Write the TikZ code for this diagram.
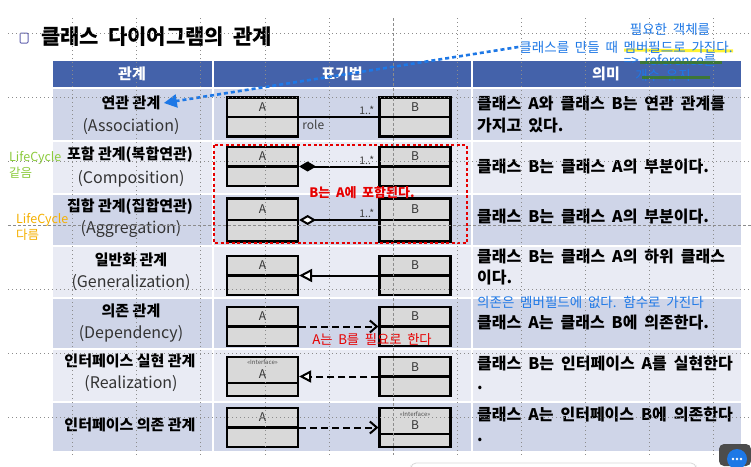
\documentclass[tikz,border=0pt]{standalone}
\usepackage{fontspec}
\setmainfont{Noto Sans CJK KR}
\newfontfamily\krwide{Noto Sans CJK KR}[WordSpace=2.2]
\newfontfamily\krmid{Noto Sans CJK KR}[WordSpace=1.9]
\usetikzlibrary{arrows.meta}
\definecolor{hdblue}{HTML}{4462AA}
\definecolor{rowdark}{HTML}{CFD5E8}
\definecolor{rowlight}{HTML}{E9EBF4}
\definecolor{boxgray}{HTML}{D9D9D9}
\definecolor{noteblue}{HTML}{1E78E6}
\definecolor{notered}{HTML}{E60000}
\definecolor{lcgreen}{HTML}{8CCB3C}
\definecolor{lcorange}{HTML}{F5B000}
\definecolor{strikegreen}{HTML}{3C7A22}
\definecolor{guide}{HTML}{8C8C8C}

\tikzset{
  cell/.style={draw=white, line width=1.5pt},
  classbox/.style={draw=black, line width=2.2pt, fill=boxgray, minimum width=71pt, minimum height=39pt, inner sep=0pt},
  divider/.style={line width=2.2pt},
  cname/.style={font=\fontsize{12}{12}\selectfont, text=black!80, inner sep=0pt},
  stereo/.style={font=\fontsize{6}{6}\selectfont, text=black!70, inner sep=0pt},
  mult/.style={font=\fontsize{10.5}{11}\selectfont, text=black!75, inner sep=1pt},
  relko/.style={font=\bfseries\fontsize{15}{15}\selectfont},
  relen/.style={font=\fontsize{16}{16}\selectfont, text=black!80},
  meaning/.style={font=\krmid\bfseries\fontsize{16}{17}\selectfont, anchor=west, inner sep=0pt},
  headtext/.style={font=\bfseries\fontsize{15}{15}\selectfont, text=white},
  note/.style={font=\krwide\fontsize{13.5}{14}\selectfont, text=noteblue, inner sep=1pt},
  guideline/.style={guide, line width=0.7pt, dash pattern=on 1pt off 3pt},
  rel/.style={line width=2pt},
  depline/.style={line width=2pt, dash pattern=on 7pt off 4pt},
}

\begin{document}
\begin{tikzpicture}[x=1pt,y=-1pt]
\useasboundingbox (0,0) rectangle (751,466);
\fill[white] (0,0) rectangle (751,466);

\node[draw=guide!70!blue, line width=1pt, rounded corners=1pt, minimum width=8pt, minimum height=10pt, inner sep=0pt] (bullet) at (24,38) {};
\node[font=\krwide\bfseries\fontsize{21}{21}\selectfont, anchor=west, inner sep=0pt] (title) at (41,37) {클래스 다이어그램의 관계};

\draw[cell, fill=hdblue] (52,60) rectangle (213,88);
\draw[cell, fill=hdblue] (213,60) rectangle (472,88);
\draw[cell, fill=hdblue] (472,60) rectangle (742,88);
\foreach \top/\bot/\col in {88/141/rowdark,141/194/rowlight,194/246/rowdark,246/298/rowlight,298/349/rowdark,349/402/rowlight,402/452/rowdark}{
  \draw[cell, fill=\col] (52,\top) rectangle (213,\bot);
  \draw[cell, fill=\col] (213,\top) rectangle (472,\bot);
  \draw[cell, fill=\col] (472,\top) rectangle (742,\bot);
}
\node[headtext] (h1) at (132,74) {관계};
\node[headtext] (h2) at (342,74) {표기법};
\node[headtext] (h3) at (606,74) {의미};

\node[relko] (r1a) at (131,103) {연관 관계};
\node[relen] (r1b) at (131,127) {(Association)};
\node[relko] (r2a) at (130,155) {포함 관계(복합연관)};
\node[relen] (r2b) at (131,179) {(Composition)};
\node[relko] (r3a) at (130,207) {집합 관계(집합연관)};
\node[relen] (r3b) at (131,229) {(Aggregation)};
\node[relko] (r4a) at (131,260) {일반화 관계};
\node[relen] (r4b) at (131,283) {(Generalization)};
\node[relko] (r5a) at (131,311) {의존 관계};
\node[relen] (r5b) at (131,334) {(Dependency)};
\node[relko] (r6a) at (130,361) {인터페이스 실현 관계};
\node[relen] (r6b) at (131,384) {(Realization)};
\node[relko] (r7a) at (130,425) {인터페이스 의존 관계};

\foreach \n/\y in {1/117,2/166.5,4/275.5,5/326.5}{
  \node[classbox] (a\n) at (262.5,\y) {};
  \node[classbox] (b\n) at (415,\y) {};
  \draw[divider] (a\n.west) -- (a\n.east);
  \draw[divider] (b\n.west) -- (b\n.east);
  \node[cname] at ([yshift=10pt]a\n.center) {A};
  \node[cname] at ([yshift=10pt]b\n.center) {B};
}
\node[classbox, minimum height=43pt] (a3) at (262.5,220) {};
\node[classbox, minimum height=43pt] (b3) at (415,220) {};
\draw[divider] (a3.west) -- (a3.east);
\draw[divider] (b3.west) -- (b3.east);
\node[cname] at ([yshift=11pt]a3.center) {A};
\node[cname] at ([yshift=11pt]b3.center) {B};

\node[classbox] (a6) at (262.5,376.5) {};
\node[classbox] (b6) at (415,376.5) {};
\draw[divider] ([yshift=-6.5pt]a6.west) -- ([yshift=-6.5pt]a6.east);
\draw[divider] (b6.west) -- (b6.east);
\node[stereo] at ([yshift=14.5pt]a6.center) {\textless\textless Interface\textgreater\textgreater};
\node[cname] at ([yshift=2.5pt]a6.center) {A};
\node[cname] at ([yshift=9pt]b6.center) {B};

\node[classbox] (a7) at (262.5,427.5) {};
\node[classbox] (b7) at (415,427.5) {};
\draw[divider] (a7.west) -- (a7.east);
\draw[divider] ([yshift=-6.5pt]b7.west) -- ([yshift=-6.5pt]b7.east);
\node[cname] at ([yshift=10pt]a7.center) {A};
\node[stereo] at ([yshift=13.5pt]b7.center) {\textless\textless Interface\textgreater\textgreater};
\node[cname] at ([yshift=2.5pt]b7.center) {B};

\draw[rel] (a1.east) -- (b1.west);
\node[mult, anchor=south east] (m1) at ([xshift=-3pt,yshift=1pt]b1.west) {1..*};
\node[mult, font=\fontsize{12}{12}\selectfont, anchor=north west] (role) at ([xshift=2pt,yshift=-2pt]a1.east) {role};
\draw[rel, -{Diamond[length=17pt,width=10pt]}] (b2.west) -- (a2.east);
\node[mult, anchor=south east] (m2) at ([xshift=-3pt,yshift=1pt]b2.west) {1..*};
\draw[rel, -{Diamond[length=17pt,width=10pt,fill=white]}] (b3.west) -- (a3.east);
\node[mult, anchor=south east] (m3) at ([xshift=-3pt,yshift=1pt]b3.west) {1..*};
\draw[rel, -{Triangle[length=13pt,width=13pt,fill=white]}] (b4.west) -- (a4.east);
\draw[depline, -{Straight Barb[length=7pt,width=12pt]}] (a5.east) -- (b5.west);
\draw[depline, -{Triangle[length=12pt,width=12pt,fill=white]}] (b6.west) -- (a6.east);
\draw[depline, -{Straight Barb[length=7pt,width=12pt]}] (a7.east) -- (b7.west);

\draw[notered, line width=2.2pt, dash pattern=on 3pt off 2.5pt] (214,145) rectangle (467,243);
\node[font=\krwide\bfseries\fontsize{13}{13}\selectfont, text=notered] (incl) at (362,193) {B는 A에 포함된다.};
\node[font=\krwide\fontsize{13.3}{13}\selectfont, text=notered] (need) at (372,340) {A는 B를 필요로 한다};

\node[meaning] (s1a) at (477,103) {클래스 A와 클래스 B는 연관 관계를};
\node[meaning] (s1b) at (477,126) {가지고 있다.};
\node[meaning] (s2) at (477,167) {클래스 B는 클래스 A의 부분이다.};
\node[meaning] (s3) at (477,217) {클래스 B는 클래스 A의 부분이다.};
\node[meaning] (s4a) at (477,257) {클래스 B는 클래스 A의 하위 클래스};
\node[meaning] (s4b) at (477,278) {이다.};
\node[note, anchor=west, inner sep=0pt] (depnote) at (477,302) {의존은 멤버필드에 없다. 함수로 가진다};
\node[meaning] (s5) at (477,323) {클래스 A는 클래스 B에 의존한다.};
\node[meaning] (s6a) at (477,363) {클래스 B는 인터페이스 A를 실현한다};
\node[meaning] (s6b) at (477,388) {.};
\node[meaning] (s7a) at (477,415) {클래스 A는 인터페이스 B에 의존한다};
\node[meaning] (s7b) at (477,440) {.};

\draw[yellow, line width=3pt, opacity=0.8] (624,50) -- (733,51);
\node[note] (n1) at (670,29) {필요한 객체를};
\node[note] (n2) at (626,47) {클래스를 만들 때 멤버필드로 가진다.};
\node[note] (n3) at (670,60) {=> reference를};
\node[note] (n4) at (663,75) {개수 유지};
\draw[strikegreen, line width=3pt, opacity=0.85] (640,62) -- (722,62);
\draw[strikegreen, line width=3pt, opacity=0.85] (642,77) -- (710,77);
\draw[noteblue, line width=2.6pt, dash pattern=on 4pt off 3pt, -{Triangle[length=13pt,width=13pt]}] (n2.west) -- (r1a.east);

\node[font=\fontsize{12.5}{16}\selectfont, text=lcgreen, anchor=west, inner sep=0pt, align=left] (lc1) at (9,165) {LifeCycle\\같음};
\node[font=\fontsize{12.5}{16}\selectfont, text=lcorange, anchor=west, inner sep=0pt, align=left] (lc2) at (16,227) {LifeCycle\\다름};

\foreach \gx in {72,136,200,265,329,457,521,585,649,713}
  \draw[guideline] (\gx,18) -- (\gx,455);
\foreach \gy in {33,97,161,289,353,417}
  \draw[guideline] (8,\gy) -- (751,\gy);
\draw[guide, line width=0.8pt, dash pattern=on 3pt off 2pt] (393,18) -- (393,455);
\draw[guide, line width=0.8pt, dash pattern=on 3pt off 2pt] (8,225) -- (751,225);

\draw[black!15, line width=0.8pt, rounded corners=5pt] (411,472) rectangle (696,463);
\fill[black!70, rounded corners=5pt] (719,444) rectangle (751,466);
\fill[noteblue] (737,459) circle (10pt);
\foreach \dx in {-4,0,4}
  \fill[white] (737+\dx,459) circle (1.4pt);
\end{tikzpicture}
\end{document}
